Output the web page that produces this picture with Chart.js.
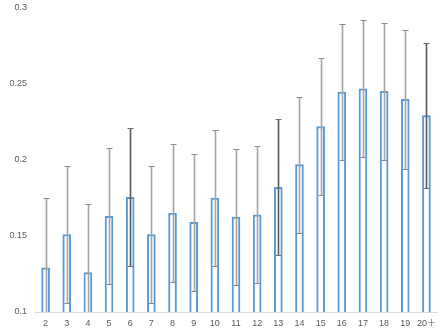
<!DOCTYPE html>
<html>
<head>
<meta charset="utf-8">
<script src="https://cdn.jsdelivr.net/npm/chart.js@4/dist/chart.umd.min.js"></script>
<style>
  html, body { margin: 0; padding: 0; background: #fff; }
  #wrap { width: 443px; height: 333px; }
</style>
</head>
<body>
<div id="wrap"><canvas id="chart"></canvas></div>
<script>
const labels = ['2','3','4','5','6','7','8','9','10','11','12','13','14','15','16','17','18','19','20＋'];
const means = [0.129, 0.151, 0.126, 0.163, 0.1755, 0.151, 0.165, 0.159, 0.175, 0.1625, 0.164, 0.182, 0.197, 0.222, 0.2447, 0.2469, 0.2451, 0.2399, 0.2293];
const errors = [0.046, 0.045, 0.045, 0.0448, 0.0453, 0.045, 0.0454, 0.045, 0.045, 0.045, 0.045, 0.0448, 0.0447, 0.045, 0.045, 0.045, 0.0452, 0.0455, 0.048];
const yTicks = [0.1, 0.15, 0.2, 0.25, 0.3];

// a few whiskers are drawn darker
const darkBars = ['6', '13', '20＋'];

const labelFont = { family: "'Liberation Sans', 'Noto Sans CJK SC', sans-serif", size: 9 };

// whiskers: mean +/- error, with small caps at each end
const errorBars = {
  id: 'errorBars',
  afterDatasetsDraw(chart) {
    const { ctx, chartArea, scales } = chart;
    const meta = chart.getDatasetMeta(0);
    ctx.save();
    ctx.beginPath();
    ctx.rect(chartArea.left, 0, chartArea.right - chartArea.left, chartArea.bottom);
    ctx.clip();
    meta.data.forEach((bar, i) => {
      const x = Math.round(bar.x) + 0.5;
      const yHi = Math.round(scales.y.getPixelForValue(means[i] + errors[i]));
      const yLo = Math.round(scales.y.getPixelForValue(means[i] - errors[i]));
      const dark = darkBars.includes(labels[i]);
      ctx.strokeStyle = dark ? '#595959' : '#a5a5a5';
      ctx.lineWidth = 1.6;
      ctx.beginPath();
      ctx.moveTo(x, yHi);
      ctx.lineTo(x, yLo);
      ctx.stroke();
      ctx.strokeStyle = dark ? '#707070' : '#8a8a8a';
      ctx.lineWidth = 1;
      ctx.beginPath();
      ctx.moveTo(x - 3, yHi + 0.5);
      ctx.lineTo(x + 3, yHi + 0.5);
      ctx.moveTo(x - 3, yLo + 0.5);
      ctx.lineTo(x + 3, yLo + 0.5);
      ctx.stroke();
    });
    ctx.restore();
  }
};

new Chart(document.getElementById('chart'), {
  type: 'bar',
  data: {
    labels: labels,
    datasets: [{
      data: means,
      backgroundColor: '#ffffff',
      borderColor: '#5b9bd5',
      borderWidth: 2,
      barThickness: 8
    }]
  },
  options: {
    responsive: true,
    maintainAspectRatio: false,
    animation: false,
    layout: { padding: { top: 8, right: 6, left: 0, bottom: 0 }, autoPadding: false },
    plugins: { legend: { display: false }, tooltip: { enabled: false } },
    scales: {
      x: {
        grid: { display: false, drawTicks: false },
        border: { color: '#d9d9d9', width: 1 },
        ticks: { color: '#595959', font: labelFont, padding: 6, maxRotation: 0, autoSkip: false },
        afterFit(axis) { axis.height = 21; axis.paddingLeft = 0; axis.paddingRight = 0; }
      },
      y: {
        min: 0.1,
        max: 0.3,
        afterBuildTicks(axis) { axis.ticks = yTicks.map(v => ({ value: v })); },
        grid: { display: false, drawTicks: false },
        border: { display: false },
        ticks: {
          color: '#595959',
          font: labelFont,
          padding: 8,
          callback: v => String(Math.round(v * 100) / 100)
        },
        afterFit(axis) { axis.width = 35; axis.paddingTop = 0; axis.paddingBottom = 0; }
      }
    }
  },
  plugins: [errorBars]
});
</script>
</body>
</html>
